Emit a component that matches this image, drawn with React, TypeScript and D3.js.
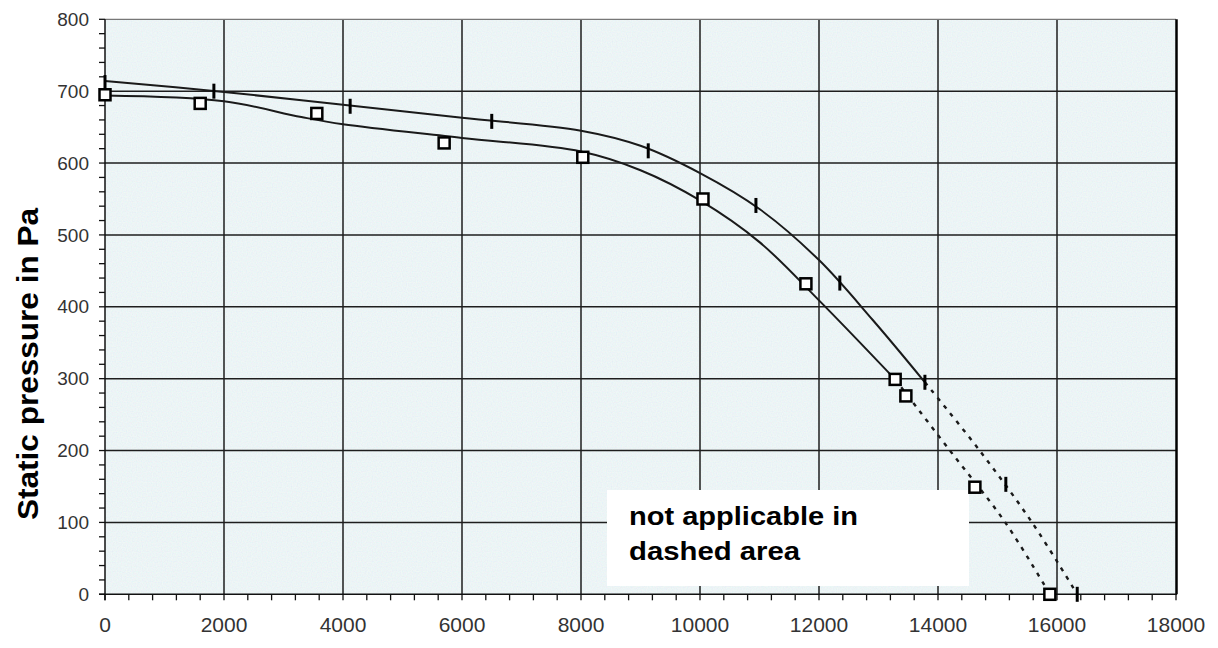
import React from "react";
import * as d3 from "d3";

// ---- data ----
const xTickValues = [0, 2000, 4000, 6000, 8000, 10000, 12000, 14000, 16000, 18000];
const yTickValues = [0, 100, 200, 300, 400, 500, 600, 700, 800];

// lower series (square markers)
const squareX = [0, 1600, 3560, 5700, 8030, 10050, 11780, 13280, 13460, 14620, 15880];
const squareY = [695, 683, 669, 628, 608, 550, 432, 299, 276, 149, 0];

// upper series (bar markers)
const barX = [0, 1830, 4120, 6500, 9130, 10940, 12350, 13780, 15140, 16340];
const barY = [712, 700, 679, 658, 617, 541, 433, 295, 153, 0];

// fitted curves
const upperSolidX = [0, 2000, 4000, 6000, 8000, 9000, 10000, 11000, 12000, 12900, 13780];
const upperSolidY = [714, 699, 681, 663, 645, 624, 586, 536, 465, 382, 295];
const upperDashX = [13780, 14700, 15580, 16340];
const upperDashY = [295, 200, 100, 0];

const lowerSolidX = [0, 2000, 3300, 4000, 6000, 8000, 9000, 10000, 11000, 12000, 13280];
const lowerSolidY = [694, 686, 664, 654, 635, 616, 590, 548, 490, 409, 299];
const lowerDashX = [13280, 14200, 15130, 15880];
const lowerDashY = [299, 200, 100, 0];

const yAxisTitle = "Static pressure in Pa";
const noteLines = ["not applicable in", "dashed area"];

const W = 1218;
const H = 648;
const L = 105, R = 1176, T = 19.3, B = 594.3;

export default function App() {
  const x = d3.scaleLinear().domain([0, 18000]).range([L, R]);
  const y = d3.scaleLinear().domain([0, 800]).range([B, T]);

  const line = d3
    .line<[number, number]>()
    .x((d) => x(d[0]))
    .y((d) => y(d[1]))
    .curve(d3.curveCatmullRom.alpha(0.5));

  const zip = (xs: number[], ys: number[]) => xs.map((v, i) => [v, ys[i]] as [number, number]);

  const xMinor = d3.range(0, 18001, 400);
  const yMinor = d3.range(0, 801, 20);

  return (
    <svg
      width={W}
      height={H}
      style={{ position: "absolute", left: 0, top: 0, background: "#fff" }}
      fontFamily="Liberation Sans, Arial, sans-serif"
    >
      <defs>
        <filter id="noise" x="0" y="0" width="100%" height="100%">
          <feTurbulence type="fractalNoise" baseFrequency="0.8" numOctaves="1" seed="5" result="n" />
          <feColorMatrix
            in="n"
            type="matrix"
            values="0.5 0 0 0 0.66  0 0.4 0 0 0.72  0 0 0.3 0 0.8  0 0 0 0 0.4"
          />
        </filter>
      </defs>
      {/* plot background */}
      <rect x={L} y={T} width={R - L} height={B - T} fill="#e6f3f3" />
      <rect x={L} y={T} width={R - L} height={B - T} filter="url(#noise)" />

      {/* grid */}
      {xTickValues
        .filter((v) => v > 0 && v < 18000)
        .map((v) => (
          <line key={"gx" + v} x1={x(v)} x2={x(v)} y1={T} y2={B} stroke="#1e1e1e" strokeWidth={1.5} />
        ))}
      {yTickValues
        .filter((v) => v > 0 && v < 800)
        .map((v) => (
          <line key={"gy" + v} x1={L} x2={R} y1={y(v)} y2={y(v)} stroke="#1e1e1e" strokeWidth={1.5} />
        ))}

      {/* border */}
      <line x1={L} x2={R} y1={T} y2={T} stroke="#777" strokeWidth={1.2} />
      <line x1={R + 0.5} x2={R + 0.5} y1={T} y2={B} stroke="#000" strokeWidth={2.5} />
      <line x1={L} x2={L} y1={T} y2={B + 6} stroke="#111" strokeWidth={1.5} />
      <line x1={L - 6} x2={R + 1} y1={B} y2={B} stroke="#111" strokeWidth={1.5} />

      {/* minor/major ticks */}
      {yMinor.map((v) => (
        <line key={"ty" + v} x1={L - 6} x2={L} y1={y(v)} y2={y(v)} stroke="#111" strokeWidth={1.3} />
      ))}
      {xMinor.map((v) => (
        <line key={"tx" + v} x1={x(v)} x2={x(v)} y1={B} y2={B + 6} stroke="#111" strokeWidth={1.3} />
      ))}

      {/* tick labels */}
      {yTickValues.map((v) => (
        <text key={"ly" + v} x={89} y={y(v)} dy="0.35em" textAnchor="end" fontSize={19} fill="#333">
          {v}
        </text>
      ))}
      {xTickValues.map((v) => (
        <text key={"lx" + v} x={x(v)} y={632} textAnchor="middle" fontSize={21} fill="#333">
          {v}
        </text>
      ))}

      {/* y axis title */}
      <text
        transform={`translate(38, 364) rotate(-90)`}
        textAnchor="middle"
        fontSize={29}
        fontWeight="bold"
        fill="#000"
        textLength={312}
        lengthAdjust="spacingAndGlyphs"
      >
        {yAxisTitle}
      </text>

      {/* curves */}
      <path d={line(zip(upperSolidX, upperSolidY)) || ""} fill="none" stroke="#1a1a1a" strokeWidth={2} />
      <path d={line(zip(lowerSolidX, lowerSolidY)) || ""} fill="none" stroke="#1a1a1a" strokeWidth={2} />
      <path
        d={line(zip(upperDashX, upperDashY)) || ""}
        fill="none"
        stroke="#1a1a1a"
        strokeWidth={2.4}
        strokeDasharray="4 6"
      />
      <path
        d={line(zip(lowerDashX, lowerDashY)) || ""}
        fill="none"
        stroke="#1a1a1a"
        strokeWidth={2.4}
        strokeDasharray="4 6"
      />

      {/* note box */}
      <rect x={607} y={490} width={362} height={96} fill="#fff" />
      {noteLines.map((t, i) => (
        <text
          key={t}
          x={629}
          y={525 + i * 35}
          fontSize={26}
          fontWeight="bold"
          fill="#000"
          textLength={i === 0 ? 229 : 171}
          lengthAdjust="spacingAndGlyphs"
        >
          {t}
        </text>
      ))}

      {/* markers */}
      {barX.map((v, i) => (
        <rect
          key={"b" + i}
          x={x(v) - 1.5}
          y={y(barY[i]) - 7.5}
          width={3}
          height={15}
          fill="#000"
        />
      ))}
      {squareX.map((v, i) => (
        <rect
          key={"s" + i}
          x={x(v) - 5.5}
          y={y(squareY[i]) - 5.5}
          width={11}
          height={11}
          fill="#fff"
          stroke="#000"
          strokeWidth={2.5}
        />
      ))}
    </svg>
  );
}
